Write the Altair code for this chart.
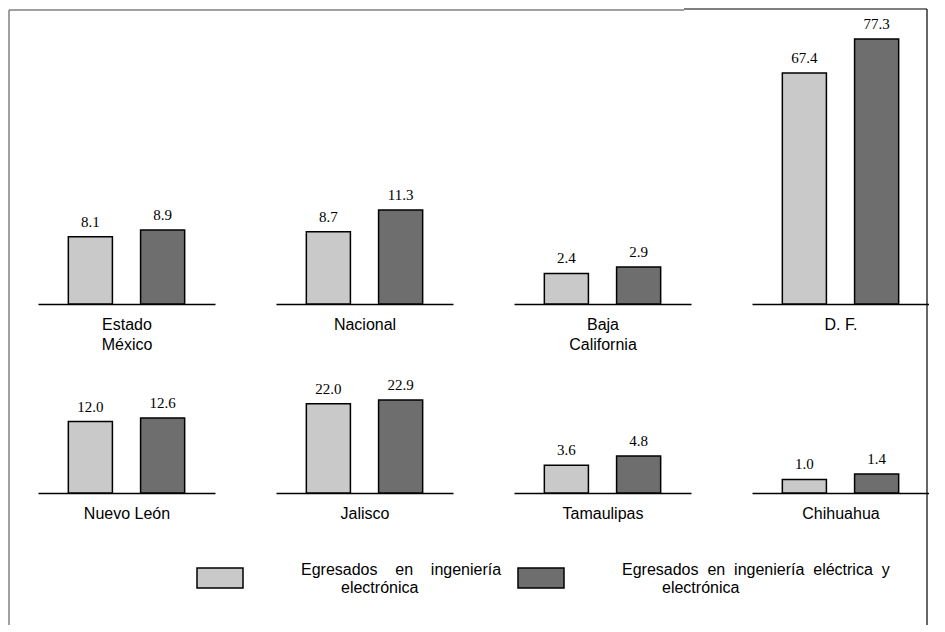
import altair as alt
import pandas as pd

# ---- data ----
regions = ["Estado México", "Nacional", "Baja California", "D. F.",
           "Nuevo León", "Jalisco", "Tamaulipas", "Chihuahua"]
region_titles = [["Estado", "México"], "Nacional", ["Baja", "California"], "D. F.",
                 "Nuevo León", "Jalisco", "Tamaulipas", "Chihuahua"]
electronica = [8.1, 8.7, 2.4, 67.4, 12.0, 22.0, 3.6, 1.0]
electrica_electronica = [8.9, 11.3, 2.9, 77.3, 12.6, 22.9, 4.8, 1.4]
series = ["Egresados en ingeniería electrónica",
          "Egresados en ingeniería eléctrica y electrónica"]

# ---- layout / style ----
tallest_px = [74, 94, 37, 265, 75, 93, 37, 19]   # drawn height of each panel's tallest bar
ROW_H = [285, 110]
PANEL_W = 177
LIGHT, DARK = "#c9c9c9", "#6e6e6e"
SANS, SERIF = "Liberation Sans", "Liberation Serif"

label_expr = (
    "datum.label == '" + series[0] + "' ? "
    "['Egresados\u00a0\u00a0\u00a0\u00a0en\u00a0\u00a0\u00a0\u00a0ingeniería', "
    "'\u200b" + "\u00a0" * 9 + "electrónica'] : "
    "['Egresados\u00a0\u00a0en\u00a0\u00a0ingeniería\u00a0\u00a0eléctrica\u00a0\u00a0y', "
    "'\u200b" + "\u00a0" * 9 + "electrónica']"
)

legend = alt.Legend(
    orient="none", legendX=158, legendY=535, direction="horizontal", columns=2,
    title=None, padding=0,
    symbolType="M-1,-0.4348H1V0.4348H-1Z", symbolSize=2116,
    symbolStrokeColor="black", symbolStrokeWidth=1.5, symbolOpacity=1,
    labelOffset=57, labelFont=SANS, labelFontSize=16, labelLimit=0,
    labelBaseline="bottom", labelColor="black", columnPadding=13,
    labelExpr=label_expr,
)
color = alt.Color("serie:N", scale=alt.Scale(domain=series, range=[LIGHT, DARK]), legend=legend)


def panel(i, H):
    df = pd.DataFrame({"serie": series, "valor": [electronica[i], electrica_electronica[i]]})
    ymax = max(electronica[i], electrica_electronica[i]) * H / tallest_px[i]
    base = alt.Chart(df).encode(
        x=alt.X("serie:N", sort=series,
                scale=alt.Scale(paddingInner=0.39, paddingOuter=0.42),
                axis=alt.Axis(title=region_titles[i], labels=False, ticks=False,
                              domain=True, domainColor="black", domainWidth=1.5)),
        y=alt.Y("valor:Q", scale=alt.Scale(domain=[0, ymax], nice=False, zero=True), axis=None),
    )
    bars = base.mark_bar(stroke="black", strokeWidth=1.5).encode(color=color)
    labels = base.mark_text(baseline="alphabetic", dy=-10, font=SERIF, fontSize=15,
                            color="black").encode(text=alt.Text("valor:Q", format=".1f"))
    layers = [bars, labels]
    if i == 0:
        one = alt.Data(values=[{"k": 1}])
        frame_left = alt.Chart(one).mark_rule(color="#808080", strokeWidth=1.5).encode(
            x=alt.value(-29), y=alt.value(-9), y2=alt.value(606))
        frame_top1 = alt.Chart(one).mark_rule(color="#808080", strokeWidth=1.5).encode(
            x=alt.value(-29), x2=alt.value(646), y=alt.value(-9))
        frame_top2 = alt.Chart(one).mark_rule(color="black", strokeWidth=1.2).encode(
            x=alt.value(646), x2=alt.value(889), y=alt.value(-10))
        frame_right = alt.Chart(one).mark_rule(color="black", strokeWidth=1.2).encode(
            x=alt.value(889), y=alt.value(-10), y2=alt.value(606))
        layers += [frame_left, frame_top1, frame_top2, frame_right]
    return alt.layer(*layers).properties(width=PANEL_W, height=H)


panels = [panel(i, ROW_H[0] if i < 4 else ROW_H[1]) for i in range(8)]
chart = alt.concat(*panels, columns=4, spacing={"row": 79, "column": 61},
                   bounds="flush").properties(
    padding=0, background="white"
).configure_view(stroke=None).configure_axis(
    titleFont=SANS, titleFontSize=16, titleFontWeight="normal", titleColor="black",
    titlePadding=12, titleLineHeight=20
)

chart.save("out.html", embed_options={"renderer": "svg", "actions": False})
